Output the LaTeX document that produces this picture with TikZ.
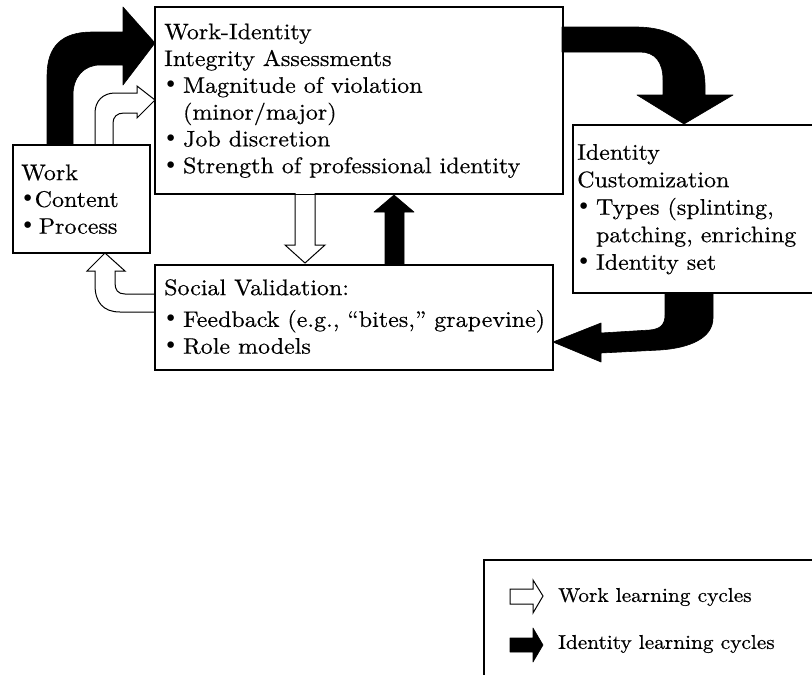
\documentclass[tikz,border=0pt]{standalone}
\usepackage{fontspec}
\setmainfont{lmroman10-regular.otf}[FakeStretch=1.067, FakeBold=0.5]
\newfontfamily\bulfont{DejaVu Sans}
\usetikzlibrary{calc}
\newcommand\bigbul{{\bulfont •}}
\newcommand\blt{\makebox[0.84em][l]{\bigbul}}
\newcommand\wblt{\makebox[0.78em][l]{\bigbul}}
\newcommand\tblt{\makebox[0.6em][l]{\bigbul}}
\newcommand\ind{\hspace*{0.84em}}
\begin{document}
\begin{tikzpicture}[x=1pt,y=-1pt,
  box/.style={draw, line width=1.4pt, fill=white, anchor=north west, inner sep=0pt},
  txt/.style={anchor=west, align=left, inner sep=0pt, font=\fontsize{22.5}{26.8}\selectfont},
  blackarrow/.style={fill=black, draw=black, line width=0.6pt, line join=round},
  whitearrow/.style={fill=white, draw=black, line width=1pt, line join=miter},
  legtext/.style={anchor=west, font=\fontsize{20}{23}\selectfont, inner sep=0pt}]
\useasboundingbox (0,0) rectangle (812,675);
\clip (0,0) rectangle (812,675);

% boxes (nodes)
\node[box, minimum width=407pt, minimum height=186pt] (main) at (155,7) {};
\node[box, minimum width=136pt, minimum height=107pt] (work) at (13,145) {};
\node[box, minimum width=280pt, minimum height=167pt] (ident) at (573,125) {};
\node[box, minimum width=397pt, minimum height=104pt] (social) at (155,265) {};
\node[draw, line width=1.6pt, anchor=north west, minimum width=360pt, minimum height=150pt] (legend) at (483,559) {};

% arrows
% Work -> main (identity, black)
\path[blackarrow] (47,145) -- (47,76) .. controls (47,46) and (62,32) .. (92,32) -- (123,32) -- (123,7)
  -- (155,43) -- (123,85) -- (123,65) -- (100,65) .. controls (84,65) and (73,77) .. (73,95) -- (73,145) -- cycle;
% Work -> main (work, white)
\path[whitearrow] (95,145) -- (95,113) .. controls (95,101) and (103,93) .. (115,93) -- (137,93) -- (137,86)
  -- (155,100) -- (137,118) -- (137,113) -- (124,113) .. controls (117,113) and (113,117) .. (113,123) -- (113,145);
% main -> social (white)
\path[whitearrow] (295,193) -- (295,245) -- (285,245) -- (305,263) -- (325,245) -- (315,245) -- (315,193);
% social -> main (black)
\path[blackarrow] (385,265) -- (385,212) -- (374,212) -- (394,195) -- (414,212) -- (404,212) -- (404,265) -- cycle;
% main -> ident (black)
\path[blackarrow] (562,27) -- (636,27) .. controls (678,27) and (705,50) .. (705,85) -- (705,95) -- (733,95)
  -- (684,124) -- (637,95) -- (663,95) -- (663,80) .. controls (663,62) and (655,52) .. (640,52) -- (562,52) -- cycle;
% ident -> social (black)
\path[blackarrow] (713,293) -- (713,318) .. controls (713,338) and (690,348) .. (660,350) -- (601,353) -- (601,362)
  -- (553,342) -- (601,323) -- (601,333) -- (650,330) .. controls (660,329) and (665,325) .. (665,315) -- (665,293) -- cycle;
% social -> work (white)
\path[whitearrow] (155,294) -- (125,294) .. controls (118,294) and (115,290) .. (115,283) -- (115,271) -- (125,271)
  -- (105,253) -- (87,271) -- (95,271) -- (95,285) .. controls (95,302) and (103,312) .. (120,312) -- (155,312);

% redraw box borders on top
\foreach \n in {main,work,ident,social}{\draw[line width=1.4pt] (\n.north west) rectangle (\n.south east);}

% texts
\node[txt] (maintext) at ($(main.west)+(9,0)$)
 {Work-Identity\\ Integrity Assessments\\ \blt Magnitude of violation\\ \ind(minor/major)\\ \blt Job discretion\\ \blt Strength of professional identity};
\node[txt] (worktext) at ($(work.west)+(8,0)$)
 {Work\\ \tblt Content\\ \wblt Process};
\node[txt, font=\fontsize{22.5}{27.5}\selectfont] (identtext) at ($(ident.west)+(4,0)$)
 {Identity\\ Customization\\ \blt Types (splinting,\\ \ind patching, enriching\\ \blt Identity set};
\node[txt] (socialtext) at ($(social.west)+(9,-1)$)
 {Social Validation:\\[5pt] \blt Feedback (e.g., “bites,” grapevine)\\ \blt Role models};

% legend
\path[whitearrow] (510,589) -- (533,589) -- (533,580) -- (543,596) -- (533,613) -- (533,604) -- (510,604) -- cycle;
\path[blackarrow] (510,638) -- (533,638) -- (533,628) -- (543,645) -- (533,662) -- (533,652) -- (510,652) -- cycle;
\node[legtext] (l1) at (558,597) {Work learning cycles};
\node[legtext] (l2) at (558,644) {Identity learning cycles};
\end{tikzpicture}
\end{document}
